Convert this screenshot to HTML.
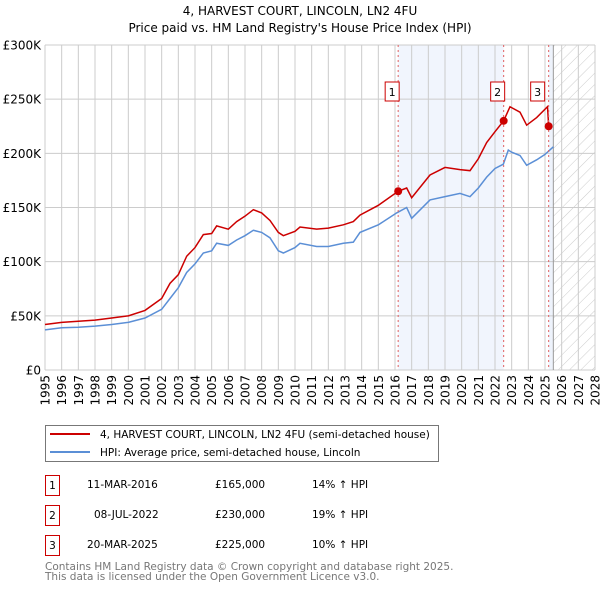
<!DOCTYPE html>
<html><head><meta charset="utf-8"><style>
body{margin:0;background:#fff;font-family:"DejaVu Sans","Liberation Sans",sans-serif;}
svg{display:block;font-family:"DejaVu Sans","Liberation Sans",sans-serif;}
</style></head><body>
<svg id="c" width="600" height="590" xmlns="http://www.w3.org/2000/svg">
<defs><pattern id="hatch" width="8" height="8" patternUnits="userSpaceOnUse" patternTransform="rotate(45)"><line x1="0" y1="0" x2="0" y2="8" stroke="#ccc" stroke-width="1"/></pattern></defs>
<text x="300" y="15" text-anchor="middle" font-size="12" fill="#000">4, HARVEST COURT, LINCOLN, LN2 4FU</text>
<text x="300" y="32" text-anchor="middle" font-size="12" fill="#000">Price paid vs. HM Land Registry's House Price Index (HPI)</text>
<g id="plot"></g>
<g>
<rect x="45.5" y="425.5" width="393" height="36" fill="#fff" stroke="#777"/>
<line x1="50" y1="434" x2="90" y2="434" stroke="#cc0000" stroke-width="2"/>
<text x="100" y="438" font-size="10.5">4, HARVEST COURT, LINCOLN, LN2 4FU (semi-detached house)</text>
<line x1="50" y1="452" x2="90" y2="452" stroke="#5b8fd6" stroke-width="2"/>
<text x="100" y="456" font-size="10.5">HPI: Average price, semi-detached house, Lincoln</text>
</g>
<g font-size="10.5">
<rect x="45.5" y="475.5" width="14" height="20" fill="#fff" stroke="#cc0000"/><text x="52.5" y="489" text-anchor="middle">1</text>
<text x="87" y="488">11-MAR-2016</text><text x="215" y="488">£165,000</text><text x="312" y="488">14% ↑ HPI</text>
<rect x="45.5" y="505.5" width="14" height="20" fill="#fff" stroke="#cc0000"/><text x="52.5" y="519" text-anchor="middle">2</text>
<text x="94" y="518">08-JUL-2022</text><text x="215" y="518">£230,000</text><text x="312" y="518">19% ↑ HPI</text>
<rect x="45.5" y="535.5" width="14" height="20" fill="#fff" stroke="#cc0000"/><text x="52.5" y="549" text-anchor="middle">3</text>
<text x="87" y="548">20-MAR-2025</text><text x="215" y="548">£225,000</text><text x="312" y="548">10% ↑ HPI</text>
</g>
<text x="45" y="570" font-size="10.5" fill="#777">Contains HM Land Registry data © Crown copyright and database right 2025.</text>
<text x="45" y="580" font-size="10.5" fill="#777">This data is licensed under the Open Government Licence v3.0.</text>
</svg>
<script>
const yTicks=[0,50000,100000,150000,200000,250000,300000];
const yTickLabels=["£0","£50K","£100K","£150K","£200K","£250K","£300K"];
const xYears=[1995,1996,1997,1998,1999,2000,2001,2002,2003,2004,2005,2006,2007,2008,2009,2010,2011,2012,2013,2014,2015,2016,2017,2018,2019,2020,2021,2022,2023,2024,2025,2026,2027,2028];
const hpiDates=[1995,1996,1997,1998,1999,2000,2001,2002,2002.5,2003,2003.5,2004,2004.5,2005,2005.3,2006,2006.5,2007,2007.5,2008,2008.5,2009,2009.3,2010,2010.3,2011.3,2012,2012.9,2013.5,2013.9,2015,2016.1,2016.7,2017,2018.1,2019,2019.9,2020.5,2021,2021.5,2022,2022.5,2022.8,2023,2023.5,2023.9,2024.5,2025,2025.5];
const hpiValues=[37000,39000,39500,40500,42000,44000,48000,56000,66000,76000,90000,98000,108000,110000,117000,115000,120000,124000,129000,127000,122000,110000,108000,113000,117000,114000,114000,117000,118000,127000,134000,145000,150000,140000,157000,160000,163000,160000,168000,178000,186000,190000,203000,201000,198000,189000,194000,199000,206000];
const priceDates=[1995,1996,1997,1998,1999,2000,2001,2002,2002.5,2003,2003.5,2004,2004.5,2005,2005.3,2006,2006.5,2007,2007.5,2008,2008.5,2009,2009.3,2010,2010.3,2011.3,2012,2012.9,2013.5,2013.9,2015,2016.19,2016.7,2017,2018.1,2019,2019.9,2020.5,2021,2021.5,2022,2022.52,2022.9,2023.5,2023.9,2024.5,2025.15,2025.22];
const priceValues=[42000,44000,45000,46000,48000,50000,55000,66000,80000,88000,105000,113000,125000,126000,133000,130000,137000,142000,148000,145000,138000,127000,124000,128000,132000,130000,131000,134000,137000,143000,152000,165000,168000,159000,180000,187000,185000,184000,195000,210000,220000,230000,243000,238000,226000,233000,243000,225000];
const saleDates=[2016.19,2022.52,2025.22];
const saleValues=[165000,230000,225000];
const saleLabels=["1","2","3"];
const X0=45,X1=595,Y0=370,Y1=45;
const xs=y=>X0+(y-1995)/(2028-1995)*(X1-X0);
const ys=v=>Y0-v/300000*(Y0-Y1);
const NS="http://www.w3.org/2000/svg";
const g=document.getElementById('plot');
function mk(t,a){const e=document.createElementNS(NS,t);for(const k in a)e.setAttribute(k,a[k]);g.appendChild(e);return e;}
let e;
e=mk('rect',{x:xs(saleDates[0]),y:Y1,width:xs(saleDates[1])-xs(saleDates[0]),height:Y0-Y1,fill:'#eef3fc',opacity:0.8});


e=mk('rect',{x:xs(saleDates[2]),y:Y1,width:xs(2025.5)-xs(saleDates[2]),height:Y0-Y1,fill:'#eef3fc'});


e=mk('rect',{x:xs(2025.5),y:Y1,width:X1-xs(2025.5),height:Y0-Y1,fill:'url(#hatch)'});


xYears.forEach(y=>{e=mk('line',{x1:xs(y),x2:xs(y),y1:Y1,y2:Y0,stroke:'#ccc','stroke-width':1});


e=mk('text',{x:0,y:0,transform:`translate(${xs(y)+4.5},${Y0+5}) rotate(-90)`,'text-anchor':'end','font-size':12});e.textContent=y;

});
yTicks.forEach((v,i)=>{e=mk('line',{x1:X0,x2:X1,y1:ys(v),y2:ys(v),stroke:'#ccc','stroke-width':1});


e=mk('text',{x:X0-4,y:ys(v)+4.5,'text-anchor':'end','font-size':12});e.textContent=yTickLabels[i];

});
e=mk('line',{x1:xs(2025.5),x2:xs(2025.5),y1:Y1,y2:Y0,stroke:'#999','stroke-width':1});


e=mk('polyline',{points:hpiDates.map((d,i)=>xs(d)+','+ys(hpiValues[i])).join(' '),fill:'none',stroke:'#5b8fd6','stroke-width':1.5});


e=mk('polyline',{points:priceDates.map((d,i)=>xs(d)+','+ys(priceValues[i])).join(' '),fill:'none',stroke:'#cc0000','stroke-width':1.5});


saleDates.forEach((d,i)=>{
e=mk('line',{x1:xs(d),x2:xs(d),y1:Y1,y2:Y0,stroke:'#e06060','stroke-width':1,'stroke-dasharray':'2,3'});


e=mk('circle',{cx:xs(d),cy:ys(saleValues[i]),r:4,fill:'#cc0000'});


const bx=xs(d)-(i==2?11:6)-7;
e=mk('rect',{x:bx,y:82,width:14,height:19,fill:'#fff',stroke:'#cc0000'});


e=mk('text',{x:bx+7,y:96,'text-anchor':'middle','font-size':11});e.textContent=saleLabels[i];


});
</script>
</body></html>
